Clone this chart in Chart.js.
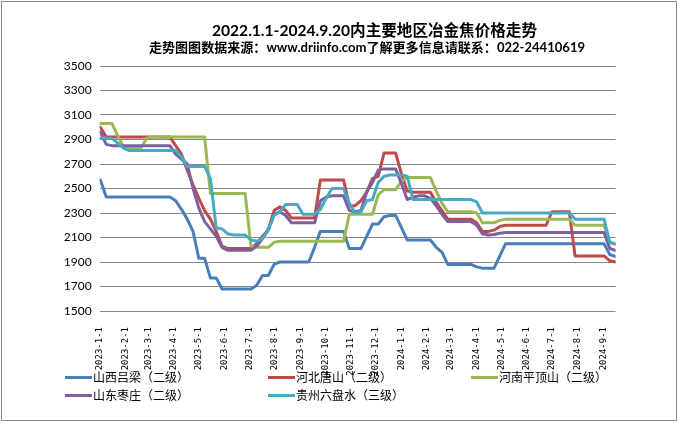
<!DOCTYPE html>
<html><head><meta charset="utf-8">
<script src="https://cdn.jsdelivr.net/npm/chart.js@4.4.1/dist/chart.umd.min.js"></script>
<style>html,body{margin:0;padding:0;background:#fff;} canvas{display:block;}</style>
</head><body>
<canvas id="c" width="678" height="423"></canvas>
<script>
const titleText = '2022.1.1-2024.9.20内主要地区冶金焦价格走势';
const subtitleText = '走势图图数据来源：www.driinfo.com了解更多信息请联系：022-24410619';
const seriesNames = ['山西吕梁（二级）','河北唐山（二级）','河南平顶山（二级）','山东枣庄（二级）','贵州六盘水（三级）'];
const seriesColors = ['#4A7EBB','#BE4B48','#98B954','#7D60A0','#46AAC5'];

const monthLabels = ['2023-1-1','2023-2-1','2023-3-1','2023-4-1','2023-5-1','2023-6-1','2023-7-1','2023-8-1','2023-9-1','2023-10-1','2023-11-1','2023-12-1',
  '2024-1-1','2024-2-1','2024-3-1','2024-4-1','2024-5-1','2024-6-1','2024-7-1','2024-8-1','2024-9-1'];

const weekDates = [
 '2023-1-2','2023-1-9','2023-1-16','2023-1-23','2023-1-30','2023-2-6','2023-2-13','2023-2-20','2023-2-27',
 '2023-3-6','2023-3-13','2023-3-20','2023-3-27','2023-4-3','2023-4-10','2023-4-17','2023-4-24',
 '2023-5-1','2023-5-8','2023-5-15','2023-5-22','2023-5-29','2023-6-5','2023-6-12','2023-6-19','2023-6-26',
 '2023-7-3','2023-7-10','2023-7-17','2023-7-24','2023-7-31','2023-8-7','2023-8-14','2023-8-21','2023-8-28',
 '2023-9-4','2023-9-11','2023-9-18','2023-9-25','2023-10-2','2023-10-9','2023-10-16','2023-10-23','2023-10-30',
 '2023-11-6','2023-11-13','2023-11-20','2023-11-27','2023-12-4','2023-12-11','2023-12-18','2023-12-25',
 '2024-1-1','2024-1-8','2024-1-15','2024-1-22','2024-1-29','2024-2-5','2024-2-12','2024-2-19','2024-2-26',
 '2024-3-4','2024-3-11','2024-3-18','2024-3-25','2024-4-1','2024-4-8','2024-4-15','2024-4-22','2024-4-29',
 '2024-5-6','2024-5-13','2024-5-20','2024-5-27','2024-6-3','2024-6-10','2024-6-17','2024-6-24',
 '2024-7-1','2024-7-8','2024-7-15','2024-7-22','2024-7-29','2024-8-5','2024-8-12','2024-8-19','2024-8-26',
 '2024-9-2','2024-9-9','2024-9-16'];

const shanxiLvliang = [2570,2430,2430,2430,2430,2430,2430,2430,2430,2430,2430,2430,2430,
 2400,2330,2250,2150,1930,1930,1770,1770,1680,
 1680,1680,1680,1680,1680,
 1710,1790,1790,1880,
 1900,1900,1900,1900,1900,1900,
 2020,2150,2150,2150,2150,2150,
 2010,2010,2010,2110,2210,2210,2270,2280,2280,2180,2080,
 2080,2080,2080,2080,
 2020,1980,1880,1880,1880,1880,1880,
 1860,1850,1850,1850,1950,2050,
 2050,2050,2050,2050,2050,2050,2050,2050,2050,2050,2050,2050,2050,2050,2050,2050,2050,
 1960,1945];

const hebeiTangshan = [3000,2920,2920,2920,2920,2920,2920,2920,2920,2920,2920,2920,2920,
 2850,2780,2650,2530,2420,2320,2250,2150,2030,
 2010,2010,2010,2010,2010,
 2050,2110,2160,2320,2350,2320,2260,
 2260,2260,2260,2260,
 2570,2570,2570,2570,2570,
 2360,2360,2400,2470,2580,2600,2790,2790,2790,2620,2480,
 2470,2470,2470,2470,
 2390,2320,2250,2250,2250,2250,2250,
 2220,2150,2150,2160,2190,2200,
 2200,2200,2200,2200,2200,2200,2200,
 2310,2310,2310,2310,
 1950,1950,1950,1950,1950,1950,
 1910,1900];

const henanPingdingshan = [3030,3030,3030,2930,2840,2830,2830,2830,2910,
 2920,2920,2920,2920,2920,2920,2920,2920,2920,2920,
 2460,2460,2460,2460,2460,2460,2460,
 2030,2020,2020,2020,2060,
 2070,2070,2070,2070,2070,2070,2070,2070,2070,2070,2070,2070,
 2290,2290,2290,2290,2290,
 2450,2490,2490,2490,2560,
 2590,2590,2590,2590,2590,
 2480,2380,2310,2310,2310,2310,2310,
 2300,2220,2220,2220,2240,2250,
 2250,2250,2250,2250,2250,2250,2250,2250,2250,2250,2250,
 2200,2200,2200,2200,2200,2200,
 2060,2050];

const shandongZaozhuang = [2960,2860,2850,2850,2850,2850,2850,2850,2850,2850,2850,2850,2850,
 2780,2740,2700,2500,2340,2230,2170,2110,2020,
 1995,1995,1995,1995,1995,
 2030,2090,2170,2290,2310,2280,2220,
 2220,2220,2220,2220,
 2400,2430,2440,2440,2440,
 2320,2310,2320,2470,2550,2650,2660,2660,2660,2540,2410,
 2430,2440,2440,2420,
 2360,2290,2230,2230,2230,2230,2230,
 2200,2130,2120,2125,2135,2140,
 2140,2140,2140,2140,2140,2140,2140,2140,2140,2140,2140,2140,2140,2140,2140,2140,2140,
 2010,1995];

const guizhouLiupanshui = [2910,2910,2910,2870,2830,
 2810,2810,2810,2810,2810,2810,2810,2810,2810,
 2760,2680,2680,2680,2680,2580,2180,2170,2130,2120,2120,2120,
 2080,2070,2090,2160,2280,2310,2370,2370,2370,2290,2290,2290,
 2330,2420,2500,2500,2500,2380,2300,2310,2400,2410,
 2550,2600,2610,2610,2610,2600,
 2410,2410,2410,2410,2410,2410,2410,2410,2410,2410,2410,
 2390,2300,
 2300,2300,2300,2300,2300,2300,2300,2300,2300,2300,2300,2300,2300,2300,2300,
 2250,2250,2250,2250,2250,2250,
 2060,2045];

const seriesValues = [shanxiLvliang, hebeiTangshan, henanPingdingshan, shandongZaozhuang, guizhouLiupanshui];

const yMin = 1500, yMax = 3500, yStep = 200;

function dayOf(s) {
  const [y, m, d] = s.split('-').map(Number);
  return (Date.UTC(y, m - 1, d) - Date.UTC(2023, 0, 1)) / 86400000;
}
const monthDays = monthLabels.map(dayOf);
const weekDays = weekDates.map(dayOf);

const CJK = "'Noto Sans CJK SC'";
const drawOrder = [5, 4, 3, 2, 1];

const datasets = seriesNames.map((name, i) => ({
  label: name,
  data: seriesValues[i].map((v, k) => ({ x: weekDays[k], y: v })),
  borderColor: seriesColors[i],
  backgroundColor: seriesColors[i],
  borderWidth: 3,
  pointRadius: 0,
  tension: 0,
  fill: false,
  borderJoinStyle: 'round',
  borderCapStyle: 'round',
  order: drawOrder[i]
}));

function drawFitted(ctx, text, cx, cy, weight, family, width) {
  ctx.font = weight + ' 20px ' + family;
  const w = ctx.measureText(text).width;
  const size = 20 * width / w;
  ctx.font = weight + ' ' + size.toFixed(2) + 'px ' + family;
  ctx.textAlign = 'center';
  ctx.textBaseline = 'middle';
  ctx.fillText(text, cx, cy);
}

const decor = {
  id: 'decor',
  beforeDraw(chart) {
    const ctx = chart.ctx;
    ctx.save();
    ctx.fillStyle = '#ffffff';
    ctx.fillRect(0, 0, chart.width, chart.height);
    ctx.restore();
  },
  afterDraw(chart) {
    const ctx = chart.ctx;
    ctx.save();
    ctx.fillStyle = '#000000';
    drawFitted(ctx, titleText, 374.5, 31, 'bold', "Lato, " + CJK, 325);
    drawFitted(ctx, subtitleText, 367, 48, 'bold', "Lato, " + CJK, 436);
    // legend
    const legendX = [65, 268, 471, 65, 268];
    const legendY = [377, 377, 377, 395, 395];
    ctx.font = '12px ' + CJK;
    ctx.textAlign = 'left';
    ctx.textBaseline = 'middle';
    seriesNames.forEach((name, i) => {
      ctx.strokeStyle = seriesColors[i];
      ctx.lineWidth = 3;
      ctx.beginPath();
      ctx.moveTo(legendX[i], legendY[i] + 0.5);
      ctx.lineTo(legendX[i] + 27, legendY[i] + 0.5);
      ctx.stroke();
      ctx.fillStyle = '#000000';
      ctx.fillText(name, legendX[i] + 28, legendY[i]);
    });
    // outer border
    ctx.strokeStyle = '#8c8c8c';
    ctx.lineWidth = 1;
    ctx.strokeRect(1.5, 1.5, 675, 419);
    ctx.restore();
  }
};

new Chart(document.getElementById('c'), {
  type: 'line',
  data: { datasets },
  options: {
    responsive: false,
    animation: false,
    devicePixelRatio: 1,
    layout: { padding: { left: 0, right: 62.4, top: 66, bottom: 0 } },
    plugins: { legend: { display: false }, title: { display: false }, tooltip: { enabled: false } },
    scales: {
      x: {
        type: 'linear',
        min: weekDays[0] - 1,
        max: weekDays[weekDays.length - 1],
        grid: { display: false },
        border: { display: false },
        afterBuildTicks: (s) => { s.ticks = monthDays.map(v => ({ value: v })); },
        afterFit: (s) => { s.height = 112; },
        ticks: {
          autoSkip: false,
          minRotation: 90,
          maxRotation: 90,
          padding: 8,
          color: '#000',
          font: { family: "'DejaVu Sans Mono', monospace", size: 9 },
          callback: (v, i) => monthLabels[i]
        }
      },
      y: {
        min: yMin,
        max: yMax,
        grid: { color: '#868686', lineWidth: 1, drawTicks: false },
        border: { display: false },
        afterFit: (s) => { s.width = 99.6; },
        ticks: {
          stepSize: yStep,
          padding: 8,
          color: '#000',
          font: { family: "Lato", size: 12 },
          callback: (v) => String(v)
        }
      }
    }
  },
  plugins: [decor]
});
</script>
</body></html>
